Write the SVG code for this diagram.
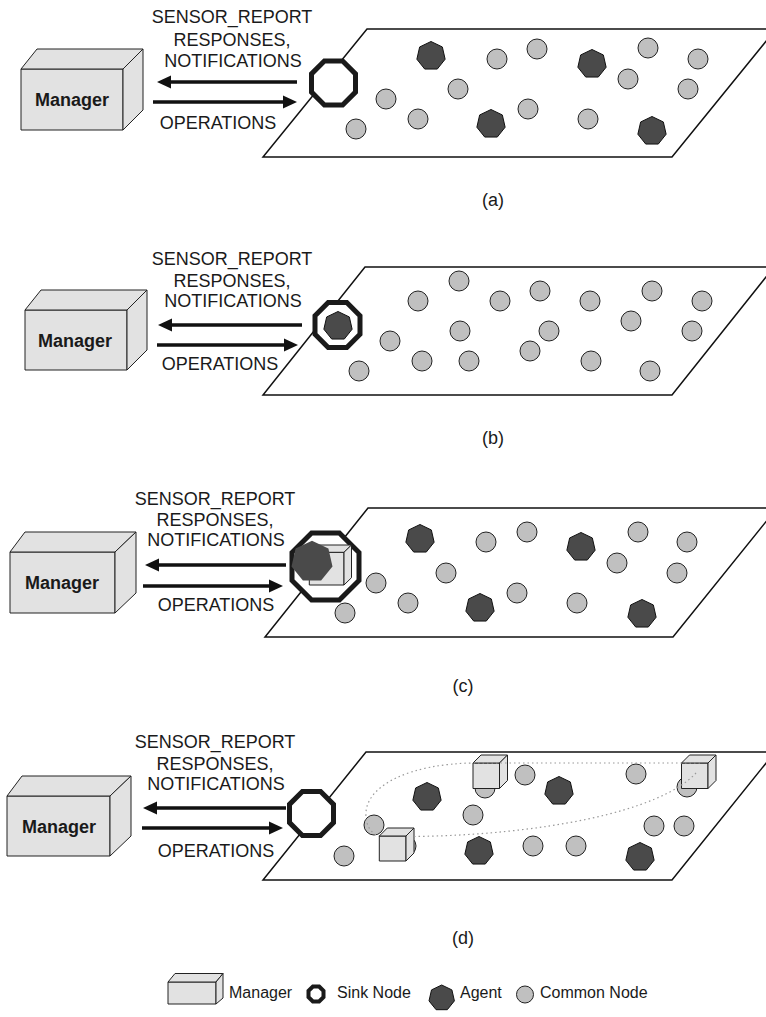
<svg xmlns="http://www.w3.org/2000/svg" width="766" height="1017" viewBox="0 0 766 1017">
<style>
.txt{font-family:"Liberation Sans",Arial,sans-serif;font-size:18px;fill:#1a1a1a}
.mgr{font-family:"Liberation Sans",Arial,sans-serif;font-size:18px;font-weight:bold;fill:#1a1a1a}
.leg{font-family:"Liberation Sans",Arial,sans-serif;font-size:16px;fill:#1a1a1a}
.box{fill:#e2e2e2;stroke:#222;stroke-width:1}
.plane{fill:#fff;stroke:#111;stroke-width:1.5}
.sink{fill:#fff;stroke:#1a1a1a;stroke-width:5;stroke-linejoin:miter}
.cn{fill:#c0c0c0;stroke:#222;stroke-width:1}
.ag{fill:#4a4a4a;stroke:#111;stroke-width:1}
.arr{stroke:#111;stroke-width:3.5;fill:none}
.dot{fill:none;stroke:#999;stroke-width:1.2;stroke-dasharray:1.5 3}
</style>
<defs>
<marker id="ah" viewBox="0 0 14 14" markerWidth="14" markerHeight="14" refX="4" refY="7" orient="auto" markerUnits="userSpaceOnUse"><path d="M0,0.5 L14,7 L0,13.5 Z" fill="#111"/></marker>
<polygon id="agent" class="ag" points="0,-14.5 11.34,-9.04 14.14,3.23 6.29,13.06 -6.29,13.06 -14.14,3.23 -11.34,-9.04"/>
<circle id="node" class="cn" r="10"/>
</defs>

<!-- ===== Panel (a) ===== -->
<g id="panel-a">
<g id="a-manager">
<polygon class="box" points="21,69 123,69 123,130 21,130"/>
<polygon class="box" points="21,69 37,49 143,49 123,69"/>
<polygon class="box" points="123,69 143,49 143,110 123,130"/>
<text class="mgr" x="72" y="106" text-anchor="middle">Manager</text>
</g>
<g id="a-labels">
<text class="txt" x="232" y="23" text-anchor="middle">SENSOR_REPORT</text>
<text class="txt" x="232" y="46" text-anchor="middle">RESPONSES,</text>
<text class="txt" x="233" y="67" text-anchor="middle">NOTIFICATIONS</text>
<text class="txt" x="218" y="129" text-anchor="middle">OPERATIONS</text>
</g>
<polygon id="a-plane" class="plane" points="367,29 776,29 672,157 263,157"/>
<g id="a-nodes">
<use href="#node" x="356" y="129"/><use href="#node" x="386" y="99"/><use href="#node" x="418" y="119"/>
<use href="#node" x="458" y="89"/><use href="#node" x="497" y="59"/><use href="#node" x="537" y="49"/>
<use href="#node" x="528" y="109"/><use href="#node" x="588" y="119"/><use href="#node" x="628" y="79"/>
<use href="#node" x="648" y="48"/><use href="#node" x="688" y="89"/><use href="#node" x="698" y="59"/>
<use href="#agent" x="431" y="56"/><use href="#agent" x="592" y="64"/>
<use href="#agent" x="491" y="124"/><use href="#agent" x="652" y="131"/>
</g>
<polygon id="a-sink" class="sink" points="342.6,61 355.5,73.9 355.5,92.1 342.6,105 324.4,105 311.5,92.1 311.5,73.9 324.4,61"/>
<text class="txt" x="493" y="206" text-anchor="middle">(a)</text>
</g>

<!-- ===== Panel (b) ===== -->
<g id="panel-b">
<g id="b-manager">
<polygon class="box" points="25,310 127,310 127,370 25,370"/>
<polygon class="box" points="25,310 41,290 147,290 127,310"/>
<polygon class="box" points="127,310 147,290 147,350 127,370"/>
<text class="mgr" x="75" y="347" text-anchor="middle">Manager</text>
</g>
<g id="b-labels">
<text class="txt" x="232" y="265" text-anchor="middle">SENSOR_REPORT</text>
<text class="txt" x="232" y="287" text-anchor="middle">RESPONSES,</text>
<text class="txt" x="233" y="307" text-anchor="middle">NOTIFICATIONS</text>
<text class="txt" x="220" y="370" text-anchor="middle">OPERATIONS</text>
</g>
<polygon id="b-plane" class="plane" points="365,267 774,267 672,395 263,395"/>
<g id="b-nodes">
<use href="#node" x="418" y="301"/><use href="#node" x="459" y="281"/><use href="#node" x="500" y="301"/>
<use href="#node" x="540" y="291"/><use href="#node" x="590" y="301"/><use href="#node" x="652" y="291"/>
<use href="#node" x="702" y="301"/><use href="#node" x="390" y="341"/><use href="#node" x="460" y="331"/>
<use href="#node" x="549" y="331"/><use href="#node" x="631" y="321"/><use href="#node" x="692" y="331"/>
<use href="#node" x="359" y="371"/><use href="#node" x="422" y="361"/><use href="#node" x="469" y="361"/>
<use href="#node" x="530" y="351"/><use href="#node" x="591" y="361"/><use href="#node" x="650" y="371"/>
</g>
<g id="b-sink">
<polygon class="sink" points="346.8,302.5 360,315.7 360,334.3 346.8,347.5 328.2,347.5 315,334.3 315,315.7 328.2,302.5"/>
<use href="#agent" x="338" y="326"/>
</g>
<text class="txt" x="493" y="444" text-anchor="middle">(b)</text>
</g>

<!-- ===== Panel (c) ===== -->
<g id="panel-c">
<g id="c-manager">
<polygon class="box" points="10,552 115,552 115,613 10,613"/>
<polygon class="box" points="10,552 25,532 136,532 115,552"/>
<polygon class="box" points="115,552 136,532 136,593 115,613"/>
<text class="mgr" x="62" y="589" text-anchor="middle">Manager</text>
</g>
<g id="c-labels">
<text class="txt" x="215" y="505" text-anchor="middle">SENSOR_REPORT</text>
<text class="txt" x="215" y="526" text-anchor="middle">RESPONSES,</text>
<text class="txt" x="216" y="546" text-anchor="middle">NOTIFICATIONS</text>
<text class="txt" x="216" y="611" text-anchor="middle">OPERATIONS</text>
</g>
<polygon id="c-plane" class="plane" points="368,508 777,508 673,637 265,637"/>
<g id="c-nodes">
<use href="#node" x="486" y="542"/><use href="#node" x="527" y="532"/><use href="#node" x="638" y="532"/>
<use href="#node" x="687" y="542"/><use href="#node" x="446" y="573"/><use href="#node" x="617" y="563"/>
<use href="#node" x="677" y="573"/><use href="#node" x="376" y="583"/><use href="#node" x="517" y="593"/>
<use href="#node" x="408" y="603"/><use href="#node" x="577" y="603"/><use href="#node" x="345" y="613"/>
<use href="#agent" x="420" y="539"/><use href="#agent" x="581" y="547"/>
<use href="#agent" x="480" y="608"/><use href="#agent" x="642" y="614"/>
</g>
<g id="c-sink">
<polygon class="sink" points="339.4,533 359,552.6 359,580.4 339.4,600 311.6,600 292,580.4 292,552.6 311.6,533"/>
<polygon class="box" points="309.3,552.3 344,552.3 344,585 309.3,585"/>
<polygon class="box" points="309.3,552.3 316.8,545 351.5,545 344,552.3"/>
<polygon class="box" points="344,552.3 351.5,545 351.5,577.7 344,585"/>
<polygon class="ag" stroke="none" points="312,540.7 328.4,548.6 332.5,566.4 321.1,580.6 302.9,580.6 291.5,566.4 295.6,548.6" style="stroke:none"/>
</g>
<text class="txt" x="463" y="692" text-anchor="middle">(c)</text>
</g>

<!-- ===== Panel (d) ===== -->
<g id="panel-d">
<g id="d-manager">
<polygon class="box" points="7,796 110,796 110,856 7,856"/>
<polygon class="box" points="7,796 22,776 131,776 110,796"/>
<polygon class="box" points="110,796 131,776 131,836 110,856"/>
<text class="mgr" x="59" y="833" text-anchor="middle">Manager</text>
</g>
<g id="d-labels">
<text class="txt" x="215" y="748" text-anchor="middle">SENSOR_REPORT</text>
<text class="txt" x="215" y="770" text-anchor="middle">RESPONSES,</text>
<text class="txt" x="216" y="790" text-anchor="middle">NOTIFICATIONS</text>
<text class="txt" x="216" y="857" text-anchor="middle">OPERATIONS</text>
</g>
<polygon id="d-plane" class="plane" points="366,752 775,752 672,880 263,880"/>
<g id="d-nodes">
<use href="#node" x="525" y="775"/><use href="#node" x="636" y="774"/><use href="#node" x="485" y="788"/>
<use href="#node" x="687" y="787"/><use href="#node" x="473" y="815"/><use href="#node" x="374" y="825"/>
<use href="#node" x="654" y="826"/><use href="#node" x="684" y="826"/><use href="#node" x="344" y="856"/>
<use href="#node" x="406" y="846"/><use href="#node" x="533" y="846"/><use href="#node" x="576" y="846"/>
<use href="#agent" x="427" y="797"/><use href="#agent" x="559" y="791"/>
<use href="#agent" x="479" y="851"/><use href="#agent" x="640" y="857"/>
</g>
<g id="d-managers">
<g id="d-cube-1">
<polygon class="box" points="473,763 499.5,763 499.5,788.5 473,788.5"/>
<polygon class="box" points="473,763 481,755 507.5,755 499.5,763"/>
<polygon class="box" points="499.5,763 507.5,755 507.5,780.5 499.5,788.5"/>
</g>
<g id="d-cube-2">
<polygon class="box" points="681.5,763 708,763 708,788.5 681.5,788.5"/>
<polygon class="box" points="681.5,763 689.5,755 716,755 708,763"/>
<polygon class="box" points="708,763 716,755 716,780.5 708,788.5"/>
</g>
<g id="d-cube-3">
<polygon class="box" points="379.3,836 406,836 406,861 379.3,861"/>
<polygon class="box" points="379.3,836 387.3,828 414,828 406,836"/>
<polygon class="box" points="406,836 414,828 414,853 406,861"/>
</g>
</g>
<polygon id="d-sink" class="sink" points="320.6,791.5 333.5,804.4 333.5,822.6 320.6,835.5 302.4,835.5 289.5,822.6 289.5,804.4 302.4,791.5"/>
<text class="txt" x="463" y="944" text-anchor="middle">(d)</text>
</g>

<!-- ===== Connectors ===== -->
<g id="connectors">
<line class="arr" x1="297" y1="82" x2="167" y2="82" marker-end="url(#ah)"/>
<line class="arr" x1="153" y1="102" x2="287" y2="102" marker-end="url(#ah)"/>
<line class="arr" x1="302" y1="325" x2="168" y2="325" marker-end="url(#ah)"/>
<line class="arr" x1="157" y1="345" x2="288" y2="345" marker-end="url(#ah)"/>
<line class="arr" x1="286" y1="565" x2="155" y2="565" marker-end="url(#ah)"/>
<line class="arr" x1="143" y1="586" x2="273" y2="586" marker-end="url(#ah)"/>
<line class="arr" x1="286" y1="808" x2="153" y2="808" marker-end="url(#ah)"/>
<line class="arr" x1="142" y1="828" x2="273" y2="828" marker-end="url(#ah)"/>
<path class="dot" d="M700,763 L473,763 C410,764 368,785 366,812 C365,826 372,834 379,836 M414,836.5 C540,835 660,812 696,773"/>
</g>

<!-- ===== Legend ===== -->
<g id="legend">
<g id="legend-manager">
<polygon class="box" points="168,982 216,982 216,1004 168,1004"/>
<polygon class="box" points="168,982 175,973.5 223,973.5 216,982"/>
<polygon class="box" points="216,982 223,973.5 223,998 216,1004"/>
<text class="leg" x="229" y="998">Manager</text>
</g>
<g id="legend-sink">
<polygon class="sink" style="stroke-width:4" points="319.1,986.5 323.5,990.9 323.5,997.1 319.1,1001.5 312.9,1001.5 308.5,997.1 308.5,990.9 312.9,986.5"/>
<text class="leg" x="337" y="998">Sink Node</text>
</g>
<g id="legend-agent">
<polygon class="ag" points="441.7,985 451.9,989.9 454.4,1000.9 447.3,1009.7 436.1,1009.7 429,1000.9 431.5,989.9"/>
<text class="leg" x="460" y="998">Agent</text>
</g>
<g id="legend-node">
<circle class="cn" cx="525" cy="994.5" r="8.5"/>
<text class="leg" x="540" y="998">Common Node</text>
</g>
</g>
</svg>
